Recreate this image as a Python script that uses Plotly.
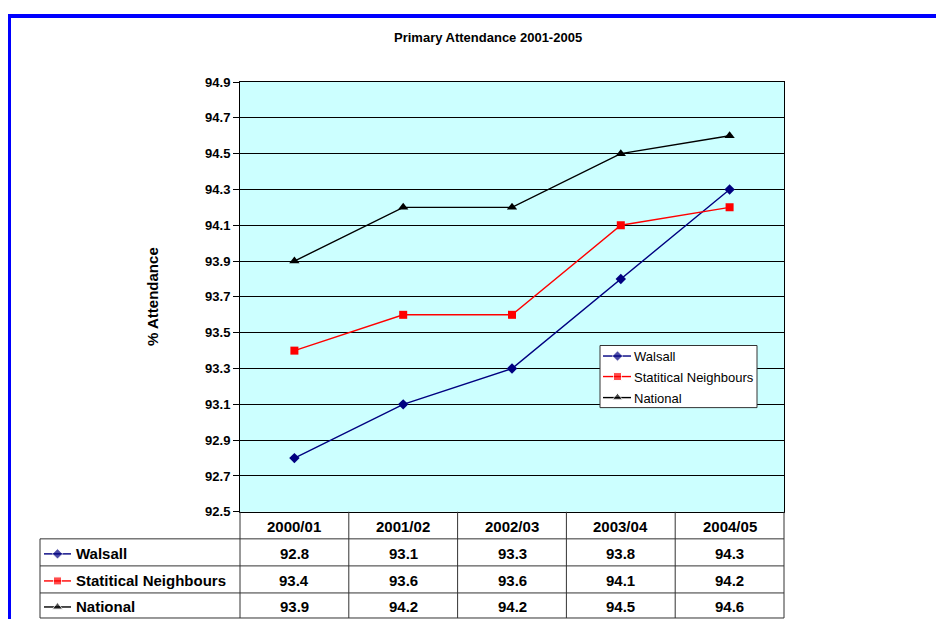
import plotly.graph_objects as go

# ---- data ----
categories = ["2000/01", "2001/02", "2002/03", "2003/04", "2004/05"]
walsall = [92.8, 93.1, 93.3, 93.8, 94.3]
stat_neighbours = [93.4, 93.6, 93.6, 94.1, 94.2]
national = [93.9, 94.2, 94.2, 94.5, 94.6]
series_names = ["Walsall", "Statitical Neighbours", "National"]
title_text = "Primary Attendance 2001-2005"
y_title = "% Attendance"

W, H = 944, 619
FONT = "Liberation Sans, Arial, sans-serif"

series = [
    (series_names[0], walsall, "#000080", "diamond", 8),
    (series_names[1], stat_neighbours, "#FF0000", "square", 8),
    (series_names[2], national, "#000000", "triangle-up", 9),
]

# layout geometry (target screen pixels)
PL, PR, PT, PB = 240, 784, 82, 511
row_lines = [538, 565, 592, 617]
row_centers = [553, 580, 606]
header_center = 525.5
label_left = 40
LEG_L, LEG_R, LEG_T, LEG_B = 600, 757, 345, 407
leg_rows = [355.5, 376, 397]

# screen -> figure calibration
OX, OY, SY = 8.0, 15.1, 0.974


def fx(x):
    return x - OX


def fy(y):
    return (y - OY) / SY


def px(x):
    return fx(x) / W


def py(y):
    return (H - fy(y)) / H


fig = go.Figure()

for name, vals, color, sym, size in series:
    fig.add_trace(go.Scatter(
        x=categories, y=vals, name=name, mode="lines+markers",
        line=dict(color=color, width=1.4),
        marker=dict(symbol=sym, size=size, color=color),
        xaxis="x", yaxis="y", showlegend=False,
    ))

# keys for table rows and the legend box (pixel overlay subplot)
for (name, vals, color, sym, size), rc, lr in zip(series, row_centers, leg_rows):
    fig.add_trace(go.Scatter(
        x=[fx(44), fx(57.5), fx(71)], y=[fy(rc)] * 3, mode="lines+markers",
        line=dict(color=color, width=1.4),
        marker=dict(symbol=sym, size=[0, size, 0], color=color),
        showlegend=False, hoverinfo="skip", xaxis="x2", yaxis="y2",
    ))
    fig.add_trace(go.Scatter(
        x=[fx(603), fx(617.5), fx(631)], y=[fy(lr)] * 3, mode="lines+markers",
        line=dict(color=color, width=1.4),
        marker=dict(symbol=sym, size=[0, size, 0], color=color),
        showlegend=False, hoverinfo="skip", xaxis="x2", yaxis="y2",
    ))

shapes = []
# plot background
shapes.append(dict(type="rect", xref="x domain", yref="y domain", x0=0, x1=1, y0=0, y1=1,
                   fillcolor="#CCFFFF", line=dict(width=0), layer="below"))
# table horizontal lines
tcol = "#333333"
for y in row_lines:
    shapes.append(dict(type="line", xref="paper", yref="paper", x0=px(label_left), x1=px(PR),
                       y0=py(y), y1=py(y), line=dict(color=tcol, width=1)))
# table verticals
shapes.append(dict(type="line", xref="paper", yref="paper", x0=px(label_left), x1=px(label_left),
                   y0=py(row_lines[0]), y1=py(row_lines[-1]), line=dict(color=tcol, width=1)))
shapes.append(dict(type="line", xref="paper", yref="paper", x0=px(PL), x1=px(PL),
                   y0=py(PB), y1=py(row_lines[-1]), line=dict(color=tcol, width=1)))
shapes.append(dict(type="line", xref="paper", yref="paper", x0=px(PR), x1=px(PR),
                   y0=py(PB), y1=py(row_lines[-1]), line=dict(color=tcol, width=1)))
for i in range(len(categories) - 1):
    shapes.append(dict(type="line", xref="x", yref="paper", x0=i + 0.5, x1=i + 0.5,
                       y0=py(PB), y1=py(row_lines[-1]), line=dict(color=tcol, width=1)))
# legend box: drawn in the overlay subplot's lower layer (above main chart, below keys)
shapes.append(dict(type="rect", xref="x2", yref="y2", x0=fx(LEG_L), x1=fx(LEG_R),
                   y0=fy(LEG_T), y1=fy(LEG_B), fillcolor="white",
                   line=dict(color="#333333", width=1), layer="below"))
# blue outer border
shapes.append(dict(type="rect", xref="paper", yref="paper", x0=1.0 / W, x1=1.05,
                   y0=-0.05, y1=1 - 1.0 / H, line=dict(color="#0000FF", width=4),
                   fillcolor="rgba(0,0,0,0)"))

ann = []
bold = dict(family=FONT, size=15, color="black", weight="bold")
# header
for c in categories:
    ann.append(dict(x=c, y=py(header_center), xref="x", yref="paper", text=c,
                    showarrow=False, font=bold, xanchor="center", yanchor="middle"))
# values and row labels
for (name, vals, color, sym, size), rc, lr in zip(series, row_centers, leg_rows):
    for c, v in zip(categories, vals):
        ann.append(dict(x=c, y=py(rc), xref="x", yref="paper", text=f"{v:.1f}",
                        showarrow=False, font=bold, xanchor="center", yanchor="middle"))
    ann.append(dict(x=px(74), y=py(rc), xref="paper", yref="paper", text=name,
                    showarrow=False, font=bold, xanchor="left", yanchor="middle"))
    ann.append(dict(x=px(632), y=py(lr + 0.5), xref="paper", yref="paper", text=name,
                    showarrow=False, font=dict(family=FONT, size=13, color="black"),
                    xanchor="left", yanchor="middle"))
# title
ann.append(dict(x=px(488), y=py(38), xref="paper", yref="paper", text=title_text,
                showarrow=False, font=dict(family=FONT, size=13, color="black", weight="bold"),
                xanchor="center", yanchor="middle"))
# y axis title
ann.append(dict(x=px(153), y=py((PT + PB) / 2), xref="paper", yref="paper", text=y_title,
                showarrow=False, textangle=-90,
                font=dict(family=FONT, size=15, color="black", weight="bold"),
                xanchor="center", yanchor="middle"))

fig.update_layout(
    width=W, height=H,
    margin=dict(l=0, r=0, t=0, b=0),
    paper_bgcolor="white",
    plot_bgcolor="rgba(0,0,0,0)",
    font=dict(family=FONT, color="black"),
    xaxis=dict(domain=[px(PL), px(PR)], type="category", range=[-0.5, 4.5],
               showticklabels=False, ticks="", showgrid=False, zeroline=False,
               showline=True, mirror=True, linecolor="black", linewidth=1,
               anchor="y"),
    yaxis=dict(domain=[py(PB), py(PT)], range=[92.5, 94.9], tick0=92.5, dtick=0.2,
               tickformat=".1f", ticks="outside", ticklen=6, tickcolor="black",
               showgrid=True, gridcolor="black", gridwidth=1, zeroline=False,
               showline=True, mirror=True, linecolor="black", linewidth=1,
               tickfont=dict(family=FONT, size=13, color="black", weight="bold"),
               anchor="x"),
    xaxis2=dict(domain=[0, 1], range=[0, W], visible=False, anchor="y2"),
    yaxis2=dict(domain=[0, 1], range=[H, 0], visible=False, anchor="x2"),
    shapes=shapes,
    annotations=ann,
    showlegend=False,
)

fig.write_html("out.html")
